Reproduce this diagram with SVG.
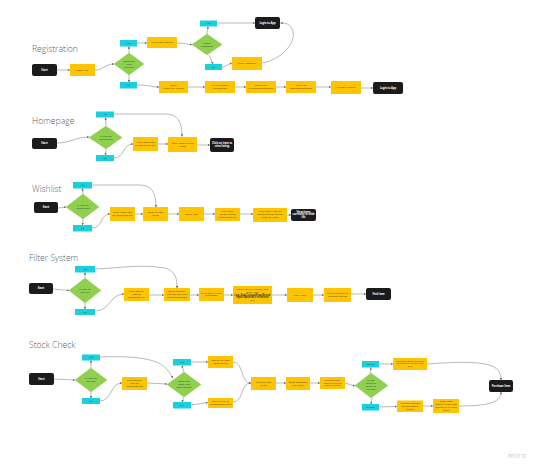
<svg xmlns="http://www.w3.org/2000/svg" width="538" height="469" viewBox="0 0 538 469">
<style>
.bg{fill:#ffffff}
.title{font-family:"Open Sans","DejaVu Sans",sans-serif;font-size:8.6px;fill:#5c5c5c;font-weight:300}
.y{fill:#fec400}
.c{fill:#19d0dc}
.g{fill:#8fd14f;stroke:#7ab83f;stroke-width:0.3}
.b{fill:#1b1b1b}
.t{font-family:"Open Sans","Liberation Sans",sans-serif;font-size:2.5px;fill:#3a3a3a;text-anchor:middle}
.tw{font-family:"Open Sans","Liberation Sans",sans-serif;font-size:2.6px;fill:#ffffff;font-weight:bold;text-anchor:middle}
.conn path{fill:none;stroke:#8a8a8a;stroke-width:0.6;marker-end:url(#ah)}
.miro{font-family:"Open Sans","DejaVu Sans",sans-serif;font-size:7.5px;fill:#c8c8c8;letter-spacing:0.6px}
</style>
<defs>
<marker id="ah" viewBox="0 0 6 6" refX="5.5" refY="3" markerUnits="userSpaceOnUse" markerWidth="2.4" markerHeight="2.4" orient="auto">
<path d="M0,0 L6,3 L0,6 Z" fill="#6a6a6a"/>
</marker>
</defs>
<rect class="bg" width="538" height="469"/>

<text class="title" x="32" y="52">Registration</text>
<text class="title" x="32" y="124">Homepage</text>
<text class="title" x="32" y="192">Wishlist</text>
<text class="title" x="29" y="261">Filter System</text>
<text class="title" x="29" y="348">Stock Check</text>

<g id="connectors" class="conn">
<!-- Registration -->
<path d="M57,70 L70,70"/>
<path d="M95,70 C104,70 105,64 114,64"/>
<path d="M129,53 L129,46.5"/>
<path d="M137,43 L147,43"/>
<path d="M177,43 C185,43 186,44.5 192,44.5"/>
<path d="M207,34 L208,26.5"/>
<path d="M217,23 L255,23"/>
<path d="M209,55 L213,64"/>
<path d="M222,67 C227,67 227,63.5 232,63.5"/>
<path d="M262,63 C281,60 298,42 292,29 C290,24 286,23 280.5,23"/>
<path d="M129,75 L129,82"/>
<path d="M137,85 C150,85 150,87 159,87"/>
<path d="M188,87 L205,87"/>
<path d="M235,87 L246,87"/>
<path d="M276,87 L286,87"/>
<path d="M316,87 L331,87"/>
<path d="M361,88 L373,88"/>
<!-- Homepage -->
<path d="M57,143 C70,143 76,137 89,137"/>
<path d="M106,126 L105.5,117.5"/>
<path d="M114,114 L165,114 C178,114 182,122 182,136.5"/>
<path d="M106,149 L105.5,155"/>
<path d="M114,158 C125,158 122,144 133,144"/>
<path d="M158,144 L168,144"/>
<path d="M197,145 L210,145"/>
<!-- Wishlist -->
<path d="M58,208 L66,207"/>
<path d="M83,194 L82.5,188.5"/>
<path d="M92,185 L140,185 C152,185 156,193 156,207"/>
<path d="M83,219 L82.5,225"/>
<path d="M92,228 C103,228 100,214 110,214"/>
<path d="M135,214 L143,214"/>
<path d="M168,214 L179,214"/>
<path d="M204,214 L215,214"/>
<path d="M240,214 L253,214"/>
<path d="M287,215 L291,215"/>
<!-- Filter -->
<path d="M53,289 L69,290.5"/>
<path d="M85,278 L85,272.5"/>
<path d="M95,269 C120,268 140,264 165,268 C176,271 177,279 177,288"/>
<path d="M85,303 L85,309"/>
<path d="M95,311 C110,311 110,294 124,294"/>
<path d="M149,295 L164,295"/>
<path d="M190,295 L199,295"/>
<path d="M224,295 L233,295"/>
<path d="M272,295 L287,295"/>
<path d="M313,295 L324,295"/>
<path d="M351,294 L366,294"/>
<!-- Stock check -->
<path d="M54,379 L75,380"/>
<path d="M91,368 L91,360.5"/>
<path d="M100,357 C125,356 150,357 162,365 C168,369 170,374 173,378"/>
<path d="M91,392 L91,398"/>
<path d="M100,401 C112,401 110,383 122,383"/>
<path d="M147,383 L167,384"/>
<path d="M184,372 L182,365.5"/>
<path d="M191,362 L208,362"/>
<path d="M184,397 L182,402"/>
<path d="M191,405 L208,402.5"/>
<path d="M233,362 C244,362 240,383 251,383"/>
<path d="M233,402 C244,402 240,383 251,383"/>
<path d="M276,383 L286,383"/>
<path d="M310,383 L320,383"/>
<path d="M345,383 L355,386"/>
<path d="M370,373 L371,367.5"/>
<path d="M379,364 L393,364"/>
<path d="M372,398 L371,404"/>
<path d="M379,407 L397,406.5"/>
<path d="M423,406 L433,406"/>
<path d="M427,364 C455,362 480,361 492,366 C499,369 501,374 501,380"/>
<path d="M459,406 C480,406 495,404 499,398 C501,395 501,394 501,392"/>
</g>

<!-- Registration nodes -->
<g id="reg-start"><rect class="b" x="32" y="64" width="25" height="12" rx="2"/><text class="tw" x="44.5" y="70.9">Start</text></g>
<g id="reg-open"><rect class="y" x="70" y="64" width="25" height="12"/><text class="t" x="82.5" y="70.9">Open App</text></g>
<g id="reg-d1"><polygon class="g" points="129,53 144,64 129,75 114,64"/><text class="t" x="129" y="62.3">Does User<tspan x="129" dy="2.8">have</tspan><tspan x="129" dy="2.8">account?</tspan></text></g>
<g id="reg-yes1"><rect class="c" x="120" y="40" width="17" height="6.5"/><text class="t" x="128.5" y="44.1">Yes</text></g>
<g id="reg-no1"><rect class="c" x="120" y="82" width="17" height="6.5"/><text class="t" x="128.5" y="86.1">No</text></g>
<g id="reg-login-details"><rect class="y" x="147" y="37" width="30" height="11"/><text class="t" x="162" y="43.3">Fill in Login details</text></g>
<g id="reg-d2"><polygon class="g" points="207,34 222,44.5 207,55 192,44.5"/><text class="t" x="207" y="43.9">Forgot<tspan x="207" dy="2.8">Password?</tspan></text></g>
<g id="reg-yes2"><rect class="c" x="200" y="20.5" width="17" height="6"/><text class="t" x="208.5" y="24.4">Yes</text></g>
<g id="reg-no2"><rect class="c" x="205" y="64" width="17" height="6"/><text class="t" x="213.5" y="67.9">No</text></g>
<g id="reg-login1"><rect class="b" x="255" y="17" width="25" height="12" rx="2"/><text class="tw" x="267.5" y="23.9">Login to App</text></g>
<g id="reg-reset"><rect class="y" x="232" y="57" width="30" height="13"/><text class="t" x="247" y="64.3">Reset Password</text></g>
<g id="reg-create"><rect class="y" x="159" y="81" width="29" height="12"/><text class="t" x="173.5" y="86.3">Select<tspan x="173.5" dy="2.8">Create an Account</tspan></text></g>
<g id="reg-personal"><rect class="y" x="205" y="81" width="30" height="12"/><text class="t" x="220" y="86.3">Fill in Personal<tspan x="220" dy="2.8">Information</tspan></text></g>
<g id="reg-check"><rect class="y" x="246" y="81" width="30" height="12"/><text class="t" x="261" y="86.3">Check that<tspan x="261" dy="2.8">information is correct</tspan></text></g>
<g id="reg-email"><rect class="y" x="286" y="81" width="30" height="12"/><text class="t" x="301" y="86.3">Check for<tspan x="301" dy="2.8">Confirmation Email</tspan></text></g>
<g id="reg-activate"><rect class="y" x="331" y="81" width="30" height="13"/><text class="t" x="346" y="88.3">Activate Account</text></g>
<g id="reg-login2"><rect class="b" x="373" y="82" width="30" height="12" rx="2"/><text class="tw" x="388" y="88.9">Login to App</text></g>

<!-- Homepage nodes -->
<g id="home-start"><rect class="b" x="32" y="138" width="25" height="11" rx="2"/><text class="tw" x="44.5" y="144.4">Start</text></g>
<g id="home-d"><polygon class="g" points="106,126 122,137.5 106,149 89,137.5"/><text class="t" x="106" y="136.8">Is User on<tspan x="106" dy="2.8">homepage?</tspan></text></g>
<g id="home-yes"><rect class="c" x="96" y="111.5" width="18" height="6"/><text class="t" x="105" y="115.4">Yes</text></g>
<g id="home-no"><rect class="c" x="96" y="155" width="18" height="6"/><text class="t" x="105" y="158.9">No</text></g>
<g id="home-click"><rect class="y" x="133" y="137" width="25" height="14"/><text class="t" x="145.5" y="143.3">Click Home icon<tspan x="145.5" dy="2.8">on navigation bar</tspan></text></g>
<g id="home-scroll"><rect class="y" x="168" y="137" width="29" height="15"/><text class="t" x="182.5" y="143.8">Scroll down to find<tspan x="182.5" dy="2.8">items</tspan></text></g>
<g id="home-item"><rect class="b" x="210" y="138" width="24" height="14" rx="2"/><text class="tw" x="222" y="144.3">Click on item to<tspan x="222" dy="2.9">view listing</tspan></text></g>

<!-- Wishlist nodes -->
<g id="wish-start"><rect class="b" x="34" y="202" width="24" height="11" rx="2"/><text class="tw" x="46" y="208.4">Start</text></g>
<g id="wish-d"><polygon class="g" points="83,194 99,207 83,219 66,207"/><text class="t" x="83" y="206.3">Is User on<tspan x="83" dy="2.8">homepage?</tspan></text></g>
<g id="wish-yes"><rect class="c" x="73" y="182" width="19" height="6.5"/><text class="t" x="82.5" y="186.1">Yes</text></g>
<g id="wish-no"><rect class="c" x="73" y="225" width="19" height="6.5"/><text class="t" x="82.5" y="229.1">No</text></g>
<g id="wish-click"><rect class="y" x="110" y="207" width="25" height="14"/><text class="t" x="122.5" y="213.3">Click Home icon<tspan x="122.5" dy="2.8">on navigation bar</tspan></text></g>
<g id="wish-scroll"><rect class="y" x="143" y="207" width="25" height="14"/><text class="t" x="155.5" y="213.3">Scroll to item<tspan x="155.5" dy="2.8">listing</tspan></text></g>
<g id="wish-select"><rect class="y" x="179" y="207" width="25" height="14"/><text class="t" x="191.5" y="214.8">Select item</text></g>
<g id="wish-heart"><rect class="y" x="215" y="208" width="25" height="13"/><text class="t" x="227.5" y="212.2">Click 'heart'<tspan x="227.5" dy="2.8">button to add</tspan><tspan x="227.5" dy="2.8">item to wish list</tspan></text></g>
<g id="wish-heart-icon"><rect class="y" x="253" y="208" width="34" height="14"/><text class="t" x="270" y="212.2">Click 'heart' icon on<tspan x="270" dy="2.8">navigation bar to view</tspan><tspan x="270" dy="2.8">wish list items</tspan></text></g>
<g id="wish-view"><rect class="b" x="291" y="209" width="25" height="12" rx="2"/><text class="tw" x="303.5" y="212.6">View items<tspan x="303.5" dy="2.8">currently in wish</tspan><tspan x="303.5" dy="2.8">list</tspan></text></g>

<!-- Filter nodes -->
<g id="filt-start"><rect class="b" x="29" y="283" width="24" height="11" rx="2"/><text class="tw" x="41" y="289.4">Start</text></g>
<g id="filt-d"><polygon class="g" points="85,278 101,290.5 85,303 69,290.5"/><text class="t" x="85" y="289.8">Is User on<tspan x="85" dy="2.8">Search?</tspan></text></g>
<g id="filt-yes"><rect class="c" x="75" y="266" width="20" height="6.5"/><text class="t" x="85" y="270.1">Yes</text></g>
<g id="filt-no"><rect class="c" x="75" y="309" width="20" height="6"/><text class="t" x="85" y="312.9">No</text></g>
<g id="filt-search"><rect class="y" x="124" y="288" width="25" height="13"/><text class="t" x="136.5" y="292.2">Click 'Search'<tspan x="136.5" dy="2.8">icon on</tspan><tspan x="136.5" dy="2.8">navigation bar</tspan></text></g>
<g id="filt-cat"><rect class="y" x="164" y="288" width="26" height="13"/><text class="t" x="177" y="292.2">Select category<tspan x="177" dy="2.8">(top/bottom) and</tspan><tspan x="177" dy="2.8">then subcategory</tspan></text></g>
<g id="filt-sort"><rect class="y" x="199" y="288" width="25" height="13"/><text class="t" x="211.5" y="293.6">Click Sort &amp; Filter<tspan x="211.5" dy="2.8">dropdown</tspan></text></g>
<g id="filt-select"><rect class="y" x="233" y="286" width="39" height="18"/><text class="t" x="252.5" y="290">Select Sort by (Newest and<tspan x="252.5" dy="2.8">price) Filter</tspan><tspan x="252.5" dy="2.8" font-weight="bold">(e.g. Size/Colour/Price/Brand</tspan><tspan x="252.5" dy="2.8" font-weight="bold">Style/Material/Fit/Pattern</tspan><tspan x="252.5" dy="2.8">etc)</tspan></text></g>
<g id="filt-apply"><rect class="y" x="287" y="288" width="26" height="14"/><text class="t" x="300" y="295.8">Click 'Apply'</text></g>
<g id="filt-scroll"><rect class="y" x="324" y="288" width="27" height="14"/><text class="t" x="337.5" y="294.3">Scroll through the<tspan x="337.5" dy="2.8">available listings</tspan></text></g>
<g id="filt-find"><rect class="b" x="366" y="288" width="25" height="12" rx="2"/><text class="tw" x="378.5" y="294.9">Find item</text></g>

<!-- Stock check nodes -->
<g id="stock-start"><rect class="b" x="29" y="373" width="25" height="12" rx="2"/><text class="tw" x="41.5" y="379.9">Start</text></g>
<g id="stock-d1"><polygon class="g" points="91,368 107,380 91,392 75,380"/><text class="t" x="91" y="379.3">Is User on<tspan x="91" dy="2.8">Search?</tspan></text></g>
<g id="stock-yes1"><rect class="c" x="82" y="354.5" width="18" height="6"/><text class="t" x="91" y="358.4">Yes</text></g>
<g id="stock-no1"><rect class="c" x="82" y="398" width="18" height="6"/><text class="t" x="91" y="401.9">No</text></g>
<g id="stock-search"><rect class="y" x="122" y="377" width="25" height="13"/><text class="t" x="134.5" y="381.2">Click 'Search'<tspan x="134.5" dy="2.8">icon on</tspan><tspan x="134.5" dy="2.8">navigation bar</tspan></text></g>
<g id="stock-d2"><polygon class="g" points="184,372 201,384.5 184,397 167,384.5"/><text class="t" x="184" y="382.4">Does User<tspan x="184" dy="2.8">know item</tspan><tspan x="184" dy="2.8">name/brand?</tspan></text></g>
<g id="stock-yes2"><rect class="c" x="173" y="359" width="18" height="6.5"/><text class="t" x="182" y="363.1">Yes</text></g>
<g id="stock-no2"><rect class="c" x="173" y="402" width="18" height="6.5"/><text class="t" x="182" y="406.1">No</text></g>
<g id="stock-name"><rect class="y" x="208" y="356" width="25" height="12"/><text class="t" x="220.5" y="361.3">Search for item<tspan x="220.5" dy="2.8">name/brand</tspan></text></g>
<g id="stock-filter"><rect class="y" x="208" y="398" width="25" height="10"/><text class="t" x="220.5" y="402.3">Sort &amp; Filter to<tspan x="220.5" dy="2.8">narrow down item</tspan></text></g>
<g id="stock-listing"><rect class="y" x="251" y="377" width="25" height="13"/><text class="t" x="263.5" y="382.8">Click on item<tspan x="263.5" dy="2.8">listing</tspan></text></g>
<g id="stock-find"><rect class="y" x="286" y="377" width="24" height="13"/><text class="t" x="298" y="382.8">Scroll down and<tspan x="298" dy="2.8">find 'Stock'</tspan></text></g>
<g id="stock-tick"><rect class="y" x="320" y="377" width="25" height="12"/><text class="t" x="332.5" y="380.8">Tick available<tspan x="332.5" dy="2.8">colour &amp; size to</tspan><tspan x="332.5" dy="2.8">check in store</tspan></text></g>
<g id="stock-d3"><polygon class="g" points="371,373 388,385.5 371,398 355,385.5"/><text class="t" x="371" y="381.4">Is user<tspan x="371" dy="2.8">checking</tspan><tspan x="371" dy="2.8">online or</tspan><tspan x="371" dy="2.8">offline?</tspan></text></g>
<g id="stock-online"><rect class="c" x="362" y="361" width="17" height="6.5"/><text class="t" x="370.5" y="365.1">Online</text></g>
<g id="stock-offline"><rect class="c" x="362" y="404" width="17" height="6.5"/><text class="t" x="370.5" y="408.1">Offline</text></g>
<g id="stock-continue"><rect class="y" x="393" y="358" width="34" height="12"/><text class="t" x="410" y="361.6">Continue with purchase<tspan x="410" dy="2.8">by selecting colour and</tspan><tspan x="410" dy="2.8">size</tspan></text></g>
<g id="stock-location"><rect class="y" x="397" y="400.5" width="26" height="11.5"/><text class="t" x="410" y="403.9">Turn on location<tspan x="410" dy="2.8">to find nearest</tspan><tspan x="410" dy="2.8">stores</tspan></text></g>
<g id="stock-nearby"><rect class="y" x="433" y="399" width="26" height="14"/><text class="t" x="446" y="402.3">Scroll down<tspan x="446" dy="2.8">nearby to see item</tspan><tspan x="446" dy="2.8">availability at each</tspan><tspan x="446" dy="2.8">store</tspan></text></g>
<g id="stock-purchase"><rect class="b" x="489" y="380" width="24" height="12" rx="2"/><text class="tw" x="501" y="386.9">Purchase Item</text></g>

<text class="miro" x="508" y="458">miro</text>
</svg>
